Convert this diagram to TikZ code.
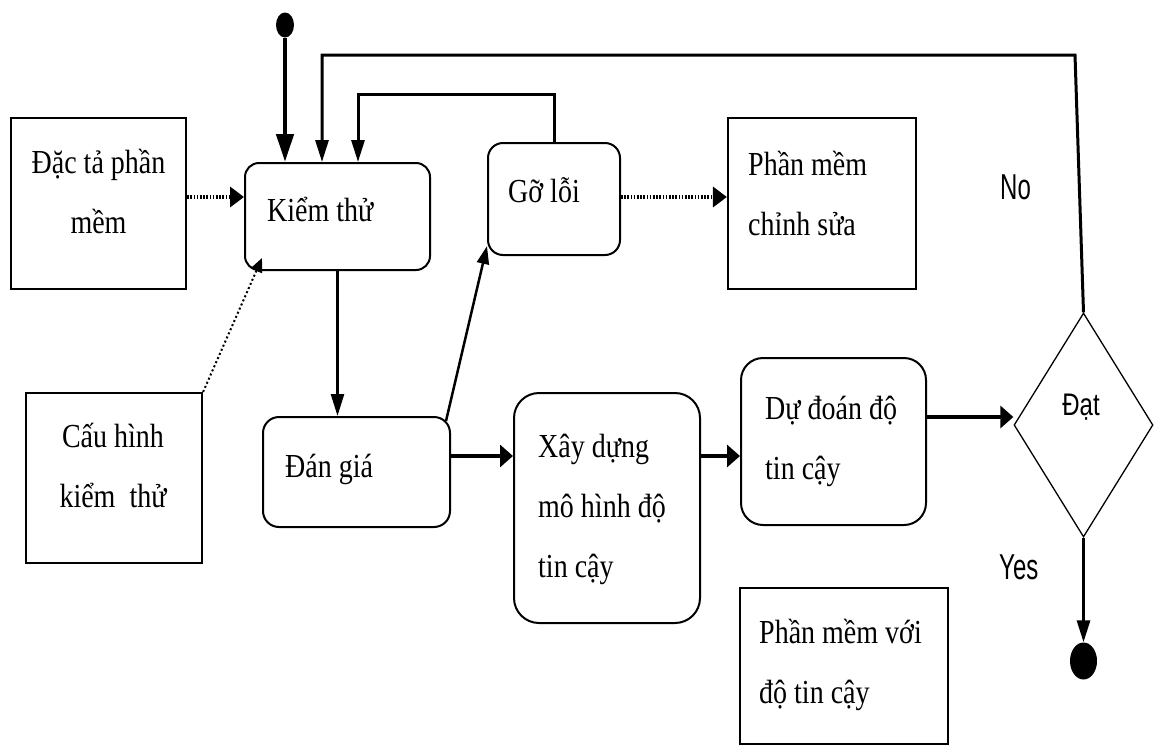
\documentclass[tikz,border=0pt]{standalone}
\usepackage{graphicx}
\usepackage{fontspec}
\setmainfont{Liberation Serif}
\newfontfamily\labelsans{Liberation Sans}
\usetikzlibrary{arrows.meta,shapes.geometric}

% tall, slightly stretched text block; optional argument = column alignment
\newcommand{\vtxt}[2][l]{\scalebox{1}[1.2]{\begin{tabular}[t]{@{}#1@{}}#2\end{tabular}}}

\tikzset{
  box/.style={draw, line width=2.2pt, inner sep=0pt},
  rbox/.style={draw, line width=2pt, rounded corners=#1, inner sep=0pt},
  rbox/.default=15pt,
  txt/.style={inner sep=0pt, font=\fontsize{28}{50}\selectfont},
  sans/.style={inner sep=0pt, font=\labelsans\fontsize{24}{30}\selectfont},
  varrow/.style={-{Triangle[length=22pt,width=13pt]}},
  harrow/.style={-{Triangle[length=13pt,width=22pt]}},
  dotflow/.style={line width=3.5pt, dash pattern=on 1.6pt off 1.6pt,
                  -{Triangle[length=14pt,width=20pt]}},
  dotthin/.style={line width=2pt, dash pattern=on 2pt off 2.5pt,
                  -{Triangle[length=14pt,width=12pt]}},
  bullet/.style={ellipse, fill=black, inner sep=0pt},
}

\begin{document}
\begin{tikzpicture}[x=1pt,y=-1pt]
\useasboundingbox (0,0) rectangle (1154,745);

% start / end markers
\node[bullet, minimum width=18pt, minimum height=25pt] (start) at (285,25) {};
\node[bullet, minimum width=27pt, minimum height=37pt] (endd) at (1083.5,661) {};

% process boxes
\node[box, minimum width=175pt, minimum height=171pt] (dacta) at (98.5,203.5) {};
\node[rbox=14pt, minimum width=185pt, minimum height=107pt] (kiem) at (337.5,216.5) {};
\node[box, minimum width=176pt, minimum height=170pt] (cauhinh) at (114,478) {};
\node[rbox=16pt, minimum width=187pt, minimum height=110pt] (dangia) at (356.5,472) {};
\node[rbox=15pt, minimum width=132pt, minimum height=112pt] (goloi) at (554,199) {};
\node[box, minimum width=188pt, minimum height=171pt] (pmcs) at (822,203.5) {};
\node[rbox=25pt, minimum width=186pt, minimum height=230pt] (xay) at (607,508) {};
\node[rbox=22pt, minimum width=185pt, minimum height=167pt] (dudoan) at (833.5,441.5) {};
\node[box, minimum width=208pt, minimum height=156pt] (pmvoi) at (844,666) {};
\node[diamond, draw, line width=1.3pt, inner sep=0pt,
      minimum width=139pt, minimum height=224pt] (dat) at (1083.5,425) {};

% box texts
\node[txt, anchor=base] at (98.5,173) {\vtxt[c]{Đặc tả phần\\mềm}};
\node[txt, anchor=base west] at (267,221) {\vtxt{Kiểm thử}};
\node[txt, anchor=base] at (113,447) {\vtxt[c]{Cấu hình\\kiểm\ \ thử}};
\node[txt, anchor=base west] at (285,477) {\vtxt{Đán giá}};
\node[txt, anchor=base west] at (508,202) {\vtxt{Gỡ lỗi}};
\node[txt, anchor=base west] at (748,175) {\vtxt{Phần mềm\\chỉnh sửa}};
\node[txt, anchor=base west] at (538,457) {\vtxt{Xây dựng\\mô hình độ\\tin cậy}};
\node[txt, anchor=base west] at (765,419) {\vtxt{Dự đoán độ\\tin cậy}};
\node[txt, anchor=base west] at (759,643) {\vtxt{Phần mềm với\\độ tin cậy}};

% decision labels
\node[sans, anchor=base] at (1081,415) {\scalebox{1}[1.3]{Đạt}};
\node[sans, anchor=base west] at (1000,199) {\scalebox{1}[1.5]{No}};
\node[sans, anchor=base west] at (999,579) {\scalebox{1}[1.5]{Yes}};

% connectors
\draw[line width=4.5pt, -{Triangle[length=28pt,width=17pt]}] (start) -- (start |- kiem.north);
\coordinate (noTurn) at (1075,55);
\draw[line width=3pt, varrow] (dat.north) -- (noTurn) -| ([xshift=-15.5pt]kiem.north);
\draw[line width=3pt, varrow] (goloi.north) -- ++(0,-48) -| ([xshift=20.5pt]kiem.north);
\draw[dotflow] (dacta.east |- 0,197) -- (kiem.west |- 0,197);
\draw[dotthin] (cauhinh.north east) -- ([xshift=18pt,yshift=13pt]kiem.south west);
\draw[line width=2.5pt, varrow] (kiem.south) -- (kiem.south |- dangia.north);
\draw[line width=2.5pt, -{Triangle[length=18pt,width=12pt]}]
  ([xshift=-5pt,yshift=-5pt]dangia.north east) -- ([yshift=10pt]goloi.south west);
\draw[dotflow] (goloi.east |- 0,197) -- (pmcs.west |- 0,197);
\draw[line width=4pt, harrow] (dangia.east |- 0,456) -- (xay.west |- 0,456);
\draw[line width=4pt, harrow] (xay.east |- 0,456) -- (dudoan.west |- 0,456);
\draw[line width=4pt, harrow] (dudoan.east |- 0,417) -- ([yshift=8pt]dat.west);
\draw[line width=3pt, varrow] (dat.south) -- (endd);
\end{tikzpicture}
\end{document}
